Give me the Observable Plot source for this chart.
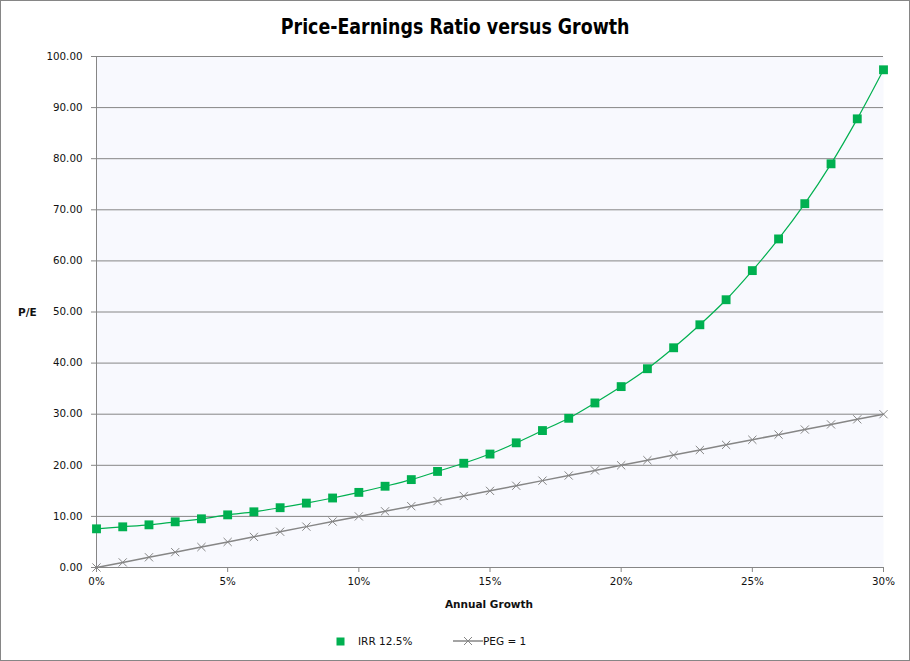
<!DOCTYPE html>
<html>
<head>
<meta charset="utf-8">
<script src="https://cdn.jsdelivr.net/npm/d3@7"></script>
<script src="https://cdn.jsdelivr.net/npm/@observablehq/plot@0.6"></script>
<style>
  html, body { margin: 0; padding: 0; background: #fff; }
  #wrap { position: relative; width: 910px; height: 661px; overflow: hidden; background: #fff; font-family: "DejaVu Sans", Verdana, sans-serif; }
  #border { position: absolute; left: 0; top: 0; width: 910px; height: 661px; box-sizing: border-box; border: 1px solid #868686; pointer-events: none; }
  #title { position: absolute; left: 0; width: 910px; top: 14px; text-align: center; font-family: "Liberation Sans Narrow", "DejaVu Sans Condensed", "Liberation Sans", sans-serif; font-weight: bold; font-size: 22px; color: #000; }
  #title span { display: inline-block; transform: scaleX(0.88); transform-origin: center; }
  #ylab { position: absolute; left: 18px; top: 306px; font-weight: bold; font-size: 10.5px; color: #111; }
  #xlab { position: absolute; left: 0; width: 978px; top: 598px; text-align: center; font-weight: bold; font-size: 10.5px; color: #111; }
  #chart { position: absolute; left: 0; top: 0; }
  #legend { position: absolute; top: 632px; left: 0; width: 910px; height: 18px; font-size: 10.5px; color: #111; }
  .li { position: absolute; top: 0; display: flex; align-items: center; height: 18px; }
</style>
</head>
<body>
<div id="wrap">
  <div id="chart"></div>
  <div id="title"><span>Price-Earnings Ratio versus Growth</span></div>
  <div id="ylab">P/E</div>
  <div id="xlab">Annual Growth</div>
  <div id="legend"></div>
  <div id="border"></div>
</div>
<script>
// ---- data ----
const growth = [0,1,2,3,4,5,6,7,8,9,10,11,12,13,14,15,16,17,18,19,20,21,22,23,24,25,26,27,28,29,30];
const irrPE  = [7.57,7.96,8.35,8.94,9.53,10.3,10.9,11.7,12.6,13.6,14.7,15.9,17.2,18.8,20.4,22.2,24.4,26.8,29.2,32.2,35.4,38.9,43.0,47.5,52.4,58.1,64.3,71.2,79.0,87.8,97.4];
const pegPE  = [0,1,2,3,4,5,6,7,8,9,10,11,12,13,14,15,16,17,18,19,20,21,22,23,24,25,26,27,28,29,30];
const seriesNames = ["IRR 12.5%", "PEG = 1"];
const xTicks = [0,5,10,15,20,25,30];
const yTicks = [0,10,20,30,40,50,60,70,80,90,100];

const irrData = growth.map((g, i) => ({g, pe: irrPE[i]}));
const pegData = growth.map((g, i) => ({g, pe: pegPE[i]}));

const GREEN = "#00B050";
const GRAY = "#868686";

const chart = Plot.plot({
  width: 910,
  height: 620,
  marginLeft: 96,
  marginRight: 27,
  marginTop: 56,
  marginBottom: 53,
  style: {fontFamily: "'DejaVu Sans', Verdana, sans-serif", fontSize: "10.3px", color: "#111", background: "transparent"},
  x: {domain: [0, 30], ticks: xTicks, tickFormat: d => d + "%", label: null, tickSize: 5, tickPadding: 5},
  y: {domain: [0, 100], ticks: yTicks, tickFormat: d3.format(".2f"), label: null, tickSize: 5, tickPadding: 9},
  marks: [
    Plot.frame({fill: "#F8F9FE", stroke: null}),
    Plot.gridY(yTicks, {stroke: GRAY, strokeOpacity: 1, strokeWidth: 1}),
    Plot.axisY({ticks: yTicks, tickFormat: d3.format(".2f"), stroke: GRAY, tickSize: 5, tickPadding: 9, label: null}),
    Plot.axisX({ticks: xTicks, tickFormat: d => d + "%", stroke: GRAY, tickSize: 5, tickPadding: 5, label: null}),
    Plot.ruleX([0], {stroke: GRAY, strokeWidth: 1}),
    Plot.ruleY([0], {stroke: GRAY, strokeWidth: 1}),
    Plot.line(pegData, {x: "g", y: "pe", stroke: GRAY, strokeWidth: 1.5}),
    Plot.dot(pegData, {x: "g", y: "pe", symbol: "times", r: 3.8, stroke: GRAY, strokeWidth: 1}),
    Plot.line(irrData, {x: "g", y: "pe", stroke: GREEN, strokeWidth: 1.2, curve: "catmull-rom"}),
    Plot.dot(irrData, {x: "g", y: "pe", symbol: "square", r: 5.0, fill: GREEN, stroke: null})
  ]
});
document.getElementById("chart").appendChild(chart);

// ---- legend ----
const legend = document.getElementById("legend");
const items = [
  {name: seriesNames[0], left: 336, svg: `<svg width="9" height="9" style="margin-right:13px"><rect x="0.5" y="0.5" width="8" height="8" fill="${GREEN}"/></svg>`},
  {name: seriesNames[1], left: 453, svg: `<svg width="30" height="10" style="margin-right:0px"><line x1="0" y1="5" x2="30" y2="5" stroke="${GRAY}" stroke-width="1.5"/><path d="M11,1 L19,9 M19,1 L11,9" stroke="${GRAY}" stroke-width="1"/></svg>`}
];
items.forEach(it => {
  const d = document.createElement("div");
  d.className = "li";
  d.style.left = it.left + "px";
  d.innerHTML = it.svg + `<span>${it.name}</span>`;
  legend.appendChild(d);
});
</script>
</body>
</html>
